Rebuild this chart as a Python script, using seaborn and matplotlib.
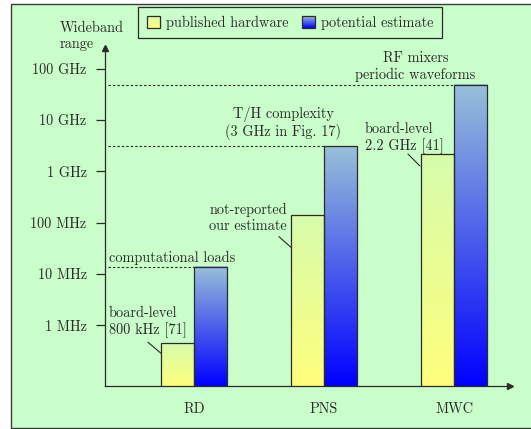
import numpy as np
import pandas as pd
import matplotlib
matplotlib.use("Agg")
import matplotlib.pyplot as plt
import seaborn as sns
from matplotlib.colors import LinearSegmentedColormap
from matplotlib.patches import Rectangle
from matplotlib.legend_handler import HandlerBase
from matplotlib.image import BboxImage
from matplotlib.ticker import NullLocator
from matplotlib.transforms import Bbox, TransformedBbox, ScaledTranslation

# values in Hz
categories = ["RD", "PNS", "MWC"]
series = ["published hardware", "potential estimate"]
published = [4.5e5, 1.43e8, 2.17e9]
estimate = [1.37e7, 3.1e9, 4.8e10]
ytick_vals = [1e6, 1e7, 1e8, 1e9, 1e10, 1e11]
ytick_labels = ["1 MHz", "10 MHz", "100 MHz", "1 GHz", "10 GHz", "100 GHz"]

df = pd.DataFrame({
    "method": categories * 2,
    "kind": [series[0]] * 3 + [series[1]] * 3,
    "band": published + estimate,
})

BG = "#c9fdc9"
INK = "#2b2b2b"
FS = 10.3
yellow_cmap = LinearSegmentedColormap.from_list("yel", ["#ffff7c", "#d6fcac"])
blue_cmap = LinearSegmentedColormap.from_list("blu", ["#0000ff", "#98c0d8"])

sns.set_style("ticks")
plt.rcParams["font.family"] = ["cmr10", "DejaVu Serif"]
plt.rcParams["axes.unicode_minus"] = False

fig = plt.figure(figsize=(5.31, 4.29), dpi=100)
fig.patch.set_facecolor("white")
fig.add_artist(Rectangle((11 / 531, 1 / 429), 1.0, 424 / 429, transform=fig.transFigure,
                         fc=BG, ec="#3c3c3c", lw=1.0, zorder=0))

ax = fig.add_axes([105 / 531, 43 / 429, 405 / 531, 338 / 429])
ax.set_facecolor("none")
ax.set_yscale("log")
sns.barplot(data=df, x="method", y="band", hue="kind", hue_order=series, order=categories,
            palette={series[0]: "#ffff00", series[1]: "#0000ff"}, saturation=1,
            width=0.51, gap=0, errorbar=None, edgecolor=INK, linewidth=0.9,
            legend=False, ax=ax)

XLIM = (-0.685, 2.43)
YLIM = (10 ** 4.82, 10 ** 11.4)
ax.set_xlim(XLIM)
ax.set_ylim(YLIM)

# gradient fills (pgf style top/bottom colour shading)
to_axes = ax.transData + ax.transAxes.inverted()
fills = []
for p in ax.patches:
    cmap = blue_cmap if p.get_facecolor()[2] > 0.5 else yellow_cmap
    x0 = p.get_x()
    top = p.get_y() + p.get_height()
    (a0, at), (a1, _) = to_axes.transform([(x0, top), (x0 + p.get_width(), top)])
    fills.append((cmap, [a0, a1, 0, at]))
    p.set_facecolor("none")
    p.set_zorder(2)
grad = np.linspace(0, 1, 256).reshape(-1, 1)
for cmap, ext in fills:
    ax.imshow(grad, cmap=cmap, origin="lower", aspect="auto", extent=ext,
              transform=ax.transAxes, interpolation="bilinear", zorder=0.5)
ax.set_xlim(XLIM)
ax.set_ylim(YLIM)

# axes with arrow heads
sns.despine(ax=ax)
for s in ["left", "bottom"]:
    ax.spines[s].set_color(INK)
    ax.spines[s].set_linewidth(0.9)
ax.plot(0, 1, "^", color=INK, ms=4, transform=ax.transAxes, clip_on=False)
ax.plot(1, 0, ">", color=INK, ms=4, transform=ax.transAxes, clip_on=False)

ax.set_yticks(ytick_vals, ytick_labels)
ax.yaxis.set_minor_locator(NullLocator())
ax.tick_params(axis="y", length=6.7, width=0.9, pad=6.5, color=INK, labelcolor=INK, labelsize=FS)
ax.tick_params(axis="x", length=0, pad=11.5, labelcolor=INK, labelsize=FS)
ax.set_xlabel("")
ax.set_ylabel("")

# dashed guides to the top of each estimate bar
for i, v in enumerate(estimate):
    ax.plot([XLIM[0] + 0.02, i], [v, v], ls=(0, (2.2, 1.8)), lw=0.8, color=INK, zorder=1.5)


def px(dx, dy):
    # pixel offset, dy measured downwards like in the picture
    return ScaledTranslation(dx / 100, -dy / 100, fig.dpi_scale_trans)


def note(txt, x, y, dx, dy, base=None, **kw):
    base = ax.transData if base is None else base
    ax.text(x, y, txt, transform=base + px(dx, dy), fontsize=FS, color=INK,
            va="center", **kw)


def leader(x, y, d0, d1):
    ax.annotate("", xy=(x, y), xycoords=ax.transData + px(*d1),
                xytext=(x, y), textcoords=ax.transData + px(*d0),
                arrowprops=dict(arrowstyle="-", lw=0.8, color=INK, shrinkA=0, shrinkB=0))


half = 0.255
yax = ax.get_yaxis_transform()
note("computational loads", 0.01, estimate[0], 0, -9, base=yax, ha="left")
note("board-level\n800 kHz [71]", 0.01, published[0], 0, -21.5, base=yax, ha="left", multialignment="left")
leader(0 - half, published[0], (-13, -1), (0, 10))

note("not-reported\nour estimate", 1 - half, published[1], -4, 3.5, ha="right", multialignment="right")
leader(1 - half, published[1], (-12, 22), (0, 32.6))
note("T/H complexity\n(3 GHz in Fig. 17)", 1, estimate[1], -41, -23, ha="center", multialignment="center")

note("board-level\n2.2 GHz [41]", 2 - half, published[2], -56, -15.7, ha="left", multialignment="left")
leader(2 - half, published[2], (-13, 0), (-1, 12))
note("RF mixers\nperiodic waveforms", 2, estimate[2], -38.7, -18.3, ha="center", multialignment="center")

fig.text(60 / 531, 1 - 36.5 / 429, "Wideband\nrange", fontsize=FS, color=INK,
         ha="left", va="center", multialignment="left")


class GradHandler(HandlerBase):
    def __init__(self, cmap):
        super().__init__()
        self.cmap = cmap

    def create_artists(self, legend, orig_handle, xdescent, ydescent, width, height, fontsize, trans):
        bb = TransformedBbox(Bbox.from_bounds(-xdescent, -ydescent, width, height), trans)
        img = BboxImage(bb, cmap=self.cmap, interpolation="bilinear", origin="lower")
        img.set_data(np.linspace(0, 1, 64).reshape(-1, 1))
        edge = Rectangle((-xdescent, -ydescent), width, height, fc="none", ec=INK, lw=0.9,
                         transform=trans)
        return [img, edge]


h_pub = Rectangle((0, 0), 1, 1)
h_est = Rectangle((0, 0), 1, 1)
leg = fig.legend(handles=[h_pub, h_est], labels=series,
                 handler_map={h_pub: GradHandler(yellow_cmap), h_est: GradHandler(blue_cmap)},
                 loc="center", bbox_to_anchor=(290 / 531, 1 - 22.5 / 429), ncol=2,
                 fontsize=FS, handlelength=0.9, handleheight=0.9, handletextpad=0.42,
                 columnspacing=0.95, borderpad=0.6, borderaxespad=0, fancybox=False,
                 edgecolor=INK, facecolor=BG, framealpha=1)
leg.get_frame().set_linewidth(0.9)
for t in leg.get_texts():
    t.set_color(INK)

fig.savefig("out.png", dpi=100)
